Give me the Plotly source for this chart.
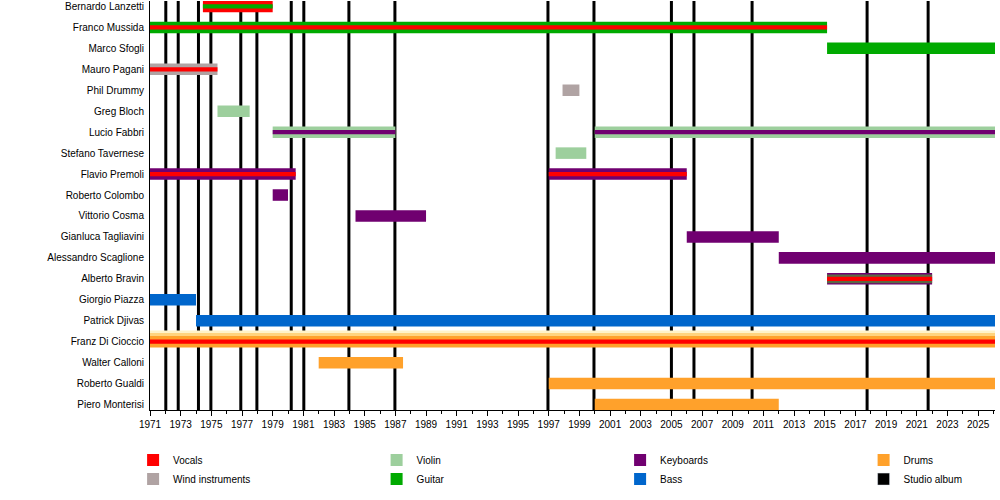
"""
Timeline of band members (line-up chart) with studio album markers.
"""

import plotly.graph_objects as go


members = ["Bernardo Lanzetti", "Franco Mussida", "Marco Sfogli",
           "Mauro Pagani", "Phil Drummy", "Greg Bloch", "Lucio Fabbri",
           "Stefano Tavernese", "Flavio Premoli", "Roberto Colombo",
           "Vittorio Cosma", "Gianluca Tagliavini", "Alessandro Scaglione",
           "Alberto Bravin", "Giorgio Piazza", "Patrick Djivas",
           "Franz Di Cioccio", "Walter Calloni", "Roberto Gualdi",
           "Piero Monterisi"]

# one entry per stint in the band
stint_member = ["Bernardo Lanzetti", "Franco Mussida", "Marco Sfogli",
                "Mauro Pagani", "Phil Drummy", "Greg Bloch", "Lucio Fabbri",
                "Lucio Fabbri", "Stefano Tavernese", "Flavio Premoli",
                "Flavio Premoli", "Roberto Colombo", "Vittorio Cosma",
                "Gianluca Tagliavini", "Alessandro Scaglione",
                "Alberto Bravin", "Giorgio Piazza", "Patrick Djivas",
                "Franz Di Cioccio", "Walter Calloni", "Roberto Gualdi",
                "Piero Monterisi"]
stint_start = [1974.45, 1971.0, 2015.15, 1971.0, 1997.9, 1975.4, 1979.0,
               2000.0, 1997.45, 1971.0, 1997.0, 1979.0, 1984.4, 2006.0,
               2012.0, 2015.15, 1971.0, 1974.0, 1971.0, 1982.0, 1997.0,
               2000.0]
stint_end = [1979.0, 2015.15, 2026.1, 1975.4, 1999.0, 1977.5, 1987.0,
             2026.1, 1999.45, 1980.5, 2006.0, 1980.0, 1989.0, 2012.0,
             2026.1, 2022.0, 1974.0, 2026.1, 2026.1, 1987.5, 2026.1,
             2012.0]
# main role (full bar), then thinner bands drawn on top
stint_main = ["Vocals", "Guitar", "Guitar", "Wind instruments",
              "Wind instruments", "Violin", "Violin", "Violin", "Violin",
              "Keyboards", "Keyboards", "Keyboards", "Keyboards",
              "Keyboards", "Keyboards", "Keyboards", "Bass", "Bass",
              "Drums", "Drums", "Drums", "Drums"]
stint_middle = [None, None, None, None, None, None, None, None, None, None,
                None, None, None, None, None, "Guitar/Bass", None, None,
                None, None, None, None]
stint_inner = ["Guitar", "Vocals", None, "Vocals", None, None, "Keyboards",
               "Keyboards", None, "Vocals", "Vocals", None, None, None,
               None, "Vocals", None, None, "Vocals", None, None, None]

album_years = [1972.03, 1972.84, 1974.16, 1974.97, 1976.92, 1977.97,
               1980.21, 1981.03, 1983.97, 1986.97, 1996.95, 1999.95,
               2005.0, 2006.47, 2010.26, 2017.76, 2021.74]

roles = ["Vocals", "Violin", "Keyboards", "Drums",
         "Wind instruments", "Guitar", "Bass"]
colors = {
    "Vocals": "#ff0000",
    "Wind instruments": "#b0a3a3",
    "Violin": "#9dcf9d",
    "Guitar": "#00aa00",
    "Keyboards": "#700070",
    "Bass": "#0066cc",
    "Drums": "#ffa12b",
    "Guitar/Bass": "#5a6943",
}

FONT = "Liberation Sans, Arial, sans-serif"
FULL_W = 0.55
MID_W = 0.42
INNER_W = 0.2

fig = go.Figure()

# soft glow above the drummer's bar (as in the original image)
glow = [(s, e, m) for s, e, m in zip(stint_start, stint_end, stint_member)
        if m == "Franz Di Cioccio"]
for col, off, wid in [("#fff3c8", -0.53, 0.27), ("#ffd47e", -0.41, 0.15)]:
    fig.add_trace(go.Bar(
        y=[g[2] for g in glow], x=[g[1] - g[0] for g in glow],
        base=[g[0] for g in glow], orientation="h", width=wid, offset=off,
        marker=dict(color=col, line_width=0), showlegend=False,
        hoverinfo="skip"))

layers = [(stint_main, FULL_W), (stint_middle, MID_W),
          (stint_inner, INNER_W)]
for level, (layer, width) in enumerate(layers):
    for role in colors:
        idx = [i for i, r in enumerate(layer) if r == role]
        if not idx:
            continue
        show = level == 0 and role in roles
        fig.add_trace(go.Bar(
            y=[stint_member[i] for i in idx],
            x=[stint_end[i] - stint_start[i] for i in idx],
            base=[stint_start[i] for i in idx],
            orientation="h", width=width, name=role,
            marker=dict(color=colors[role], line_width=0),
            showlegend=show,
            legendrank=roles.index(role) + 1 if show else 1000,
        ))

# legend-only entry for the album lines
fig.add_trace(go.Bar(x=[None], y=[None], orientation="h",
                     name="Studio album", marker_color="black",
                     legendrank=8))

for yr in album_years:
    fig.add_vline(x=yr, line_width=3, line_color="black", layer="below")

fig.update_layout(
    width=1000, height=500,
    barmode="overlay",
    plot_bgcolor="white", paper_bgcolor="white",
    margin=dict(l=150, r=5, t=1, b=90, autoexpand=False),
    font=dict(family=FONT, size=10, color="black"),
    legend=dict(orientation="h", x=-0.02, xanchor="left",
                y=-0.087, yanchor="top", entrywidth=198.5,
                entrywidthmode="pixels", font=dict(size=10),
                bgcolor="rgba(0,0,0,0)"),
)
fig.update_xaxes(range=[1971, 2026.1], tick0=1971, dtick=2,
                 ticks="outside", ticklen=5, tickcolor="black",
                 minor=dict(dtick=1, ticks="outside", ticklen=3,
                            tickcolor="black"),
                 showline=True, linecolor="black", linewidth=1,
                 showgrid=False, zeroline=False)
fig.update_yaxes(categoryorder="array", categoryarray=members,
                 range=[19.26, -0.26], showline=True, linecolor="black",
                 linewidth=1, showgrid=False, ticks="",
                 ticklabelstandoff=3)

# page body has a default margin; drop it so the chart fills the window
fig.write_html("out.html", config={"displayModeBar": False},
               post_script="document.body.style.margin='0';")
